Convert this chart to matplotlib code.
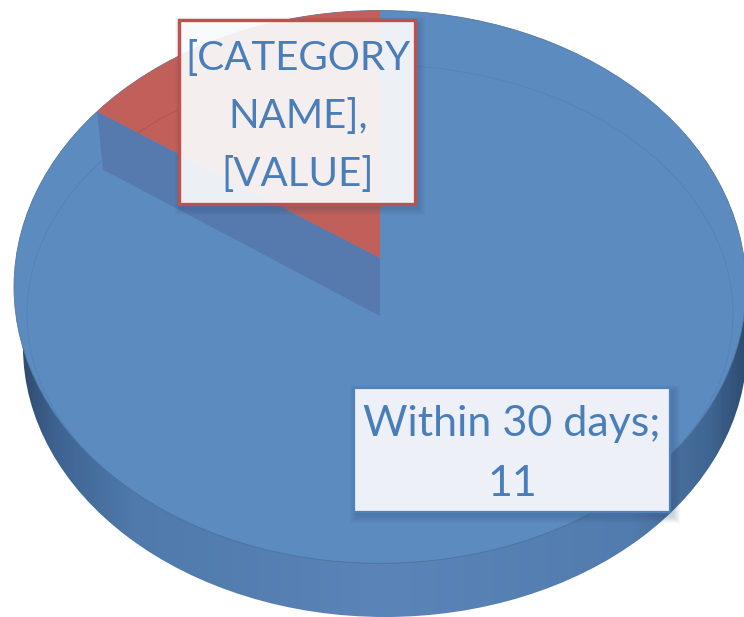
"""Fake-3D pie: "Within 30 days" against the other slice, with its unfilled label placeholder."""
import matplotlib
matplotlib.use("Agg")
import matplotlib.pyplot as plt
import numpy as np
from matplotlib.colors import LinearSegmentedColormap
from matplotlib.patches import Ellipse, Polygon, Rectangle

categories = ["Within 30 days", "[CATEGORY NAME]"]
values = [11, 1.8]  # second one is hidden by the placeholder
label_texts = ["Within 30 days;\n11", "[CATEGORY\nNAME],\n[VALUE]"]

BLUE = "#5c8bc0"
WALL = "#5679ae"
RED = "#c1605b"
TEXT = "#4a7ebb"
LINE = "#4f81bd"
BOX_RED = "#c0504d"

W, H = 744, 617
CX, CY, A, B = 380, 287, 366, 276.5   # top face
APEX_RED, APEX_BLUE = 258, 316        # red slice sits on top of the blue one
DROP, SHIFT = 58, 6


def draw_box(ax, x0, y0, x1, y1, face, alpha, edge, lw, z):
    # soft shadow from a stack of faint rectangles
    for grow in np.arange(7, 0, -1.0):
        ax.add_patch(Rectangle((x0 + 3 - grow, y0 + 4 - grow), x1 - x0 + 2 * grow, y1 - y0 + 2 * grow,
                               fc="#2f4a70", ec="none", alpha=0.035, zorder=z))
    ax.add_patch(Rectangle((x0, y0), x1 - x0, y1 - y0, fc=face, ec="none", alpha=alpha, zorder=z + 0.1))
    ax.add_patch(Rectangle((x0, y0), x1 - x0, y1 - y0, fc="none", ec=edge, lw=lw, zorder=z + 0.2))


fig = plt.figure(figsize=(W / 100, H / 100), dpi=100)
ax = fig.add_axes([0, 0, 1, 1])
ax.set_xlim(0, W)
ax.set_ylim(H, 0)
ax.axis("off")

# side of the disc: horizontal gradient, clipped to the lower ellipse
side_cmap = LinearSegmentedColormap.from_list(
    "side", [(0, "#2c4667"), (0.05, "#3d6290"), (0.16, "#4f7aab"), (0.5, "#5b84b8"),
             (0.84, "#527cae"), (0.95, "#3f6591"), (1, "#2c4a70")])
lower = Ellipse((385, 347), 724, 540, fc="none", ec="none", zorder=1)
ax.add_patch(lower)
side = ax.imshow(np.linspace(0, 1, 400).reshape(1, -1), cmap=side_cmap, extent=(14, 750, 620, 300),
                 aspect="auto", zorder=1)
side.set_clip_path(lower)
ax.set_xlim(0, W)
ax.set_ylim(H, 0)

# top face
ax.add_patch(Ellipse((CX, CY), 2 * A, 2 * B, fc=BLUE, ec="#54789f", lw=0.6, zorder=2))

# faint bevel line on the top face
ax.add_patch(Ellipse((CX, 314), 706, 498, fc="none", ec="#3f6a9e", lw=0.8, alpha=0.2, zorder=2.5))

# slice angle comes from the values, measured clockwise from 12 o'clock
angle = 2 * np.pi * values[1] / sum(values)
arc = np.linspace(0, angle, 80)
arc_x = CX - A * np.sin(arc)
arc_y = CY - B * np.cos(arc)

# inner wall of the notch under the red slice
ax.add_patch(Polygon([(arc_x[-1], arc_y[-1]), (CX, APEX_RED), (CX, APEX_BLUE),
                      (arc_x[-1] + SHIFT, arc_y[-1] + DROP)], fc=WALL, ec="none", zorder=3))

# red slice, with the bevel line carried over it
red = Polygon(np.column_stack([np.r_[CX, arc_x], np.r_[APEX_RED, arc_y]]), fc=RED, ec="none", zorder=4)
ax.add_patch(red)
red_bevel = Ellipse((CX, 314), 706, 498, fc="none", ec="#9c4a46", lw=0.8, alpha=0.4, zorder=5)
ax.add_patch(red_bevel)
red_bevel.set_clip_path(red)

# data labels
draw_box(ax, 354, 388, 670, 512, "#edf1f7", 1.0, LINE, 1.6, 6)
ax.text(512, 454, label_texts[0], ha="center", va="center", color=TEXT, fontsize=31,
        family="Lato", linespacing=1.7, zorder=7)

draw_box(ax, 179, 20, 415, 204, "#ffffff", 0.9, BOX_RED, 2.4, 6)
ax.text(298, 116, label_texts[1], ha="center", va="center", color=TEXT, fontsize=29,
        family="Lato", linespacing=1.7, zorder=7)

fig.savefig("out.png", dpi=100, facecolor="white")
plt.close(fig)
